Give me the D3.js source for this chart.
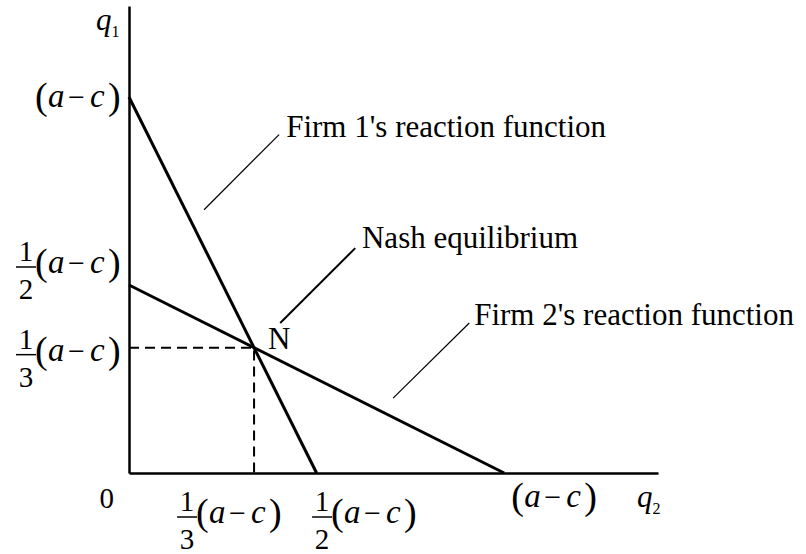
<!DOCTYPE html>
<html>
<head>
<meta charset="utf-8">
<script src="https://cdnjs.cloudflare.com/ajax/libs/d3/7.8.5/d3.min.js"></script>
<style>
  body { margin: 0; background: #fff; }
  text { font-family: "Liberation Serif", "Times New Roman", serif; fill: #000; }
</style>
</head>
<body>
<script>
// values are in units of (a - c)
var firm1Line = [{q2: 0, q1: 1}, {q2: 0.5, q1: 0}];
var firm2Line = [{q2: 0, q1: 0.5}, {q2: 1, q1: 0}];
var nash = {q2: 1 / 3, q1: 1 / 3};

var xTickValues = [1 / 3, 1 / 2, 1];
var xTickDenoms = [3, 2, null];
var yTickValues = [1, 1 / 2, 1 / 3];
var yTickDenoms = [null, 2, 3];

var annotations = [
  {text: "Firm 1's reaction function", from: [0.2, 0.70], to: [0.40, 0.90], at: [0.419, 0.894], w: 1.2},
  {text: "Nash equilibrium", from: [0.403, 0.399], to: [0.603, 0.598], at: [0.621, 0.598], w: 2},
  {text: "Firm 2's reaction function", from: [0.704, 0.199], to: [0.907, 0.399], at: [0.92, 0.394], w: 1.2}
];

var width = 806, height = 554;

var svg = d3.select("body").append("svg")
    .attr("width", width)
    .attr("height", height);

svg.append("rect").attr("width", width).attr("height", height).attr("fill", "#fff");

// axes reach past the (a-c) points
var xScale = d3.scaleLinear().domain([0, 1.41]).range([129, 658]);
var yScale = d3.scaleLinear().domain([0, 1.242]).range([473, 6]);

var xAxis = d3.axisBottom(xScale).tickValues([]).tickSizeOuter(0);
var yAxis = d3.axisLeft(yScale).tickValues([]).tickSizeOuter(0);

svg.append("g")
    .attr("transform", "translate(0," + yScale(0) + ")")
    .call(xAxis)
    .select(".domain").attr("stroke", "#000").attr("stroke-width", 2.5);

svg.append("g")
    .attr("transform", "translate(" + xScale(0) + ",0)")
    .call(yAxis)
    .select(".domain").attr("stroke", "#000").attr("stroke-width", 2.5);

var line = d3.line()
    .x(function(d) { return xScale(d.q2); })
    .y(function(d) { return yScale(d.q1); });

// dashed guides to the equilibrium
svg.append("path")
    .attr("d", line([{q2: 0, q1: nash.q1}, nash, {q2: nash.q2, q1: 0}]))
    .attr("fill", "none")
    .attr("stroke", "#000")
    .attr("stroke-width", 2)
    .attr("stroke-dasharray", "10,6");

[firm1Line, firm2Line].forEach(function(l) {
  svg.append("path")
      .attr("d", line(l))
      .attr("fill", "none")
      .attr("stroke", "#000")
      .attr("stroke-width", 3);
});

// (a - c) with optional 1/n in front; origin = left edge, baseline
function mathLabel(g, denom) {
  var x = 0;
  if (denom) {
    g.append("line").attr("x1", 0).attr("x2", 20).attr("y1", -6).attr("y2", -6)
        .attr("stroke", "#000").attr("stroke-width", 1.5);
    g.append("text").attr("x", 10).attr("y", -12).attr("text-anchor", "middle")
        .attr("font-size", 29).text("1");
    g.append("text").attr("x", 10).attr("y", 26).attr("text-anchor", "middle")
        .attr("font-size", 29).text(denom);
    x = 19;
  }
  g.append("text").attr("x", x).attr("y", 2).attr("font-size", 38).text("(");
  g.append("text").attr("x", x + 13).attr("y", 0).attr("font-size", 33)
      .attr("font-style", "italic").text("a");
  g.append("text").attr("x", x + 33).attr("y", 0).attr("font-size", 30).text("\u2212");
  g.append("text").attr("x", x + 55).attr("y", 0).attr("font-size", 33)
      .attr("font-style", "italic").text("c");
  g.append("text").attr("x", x + 73).attr("y", 2).attr("font-size", 38).text(")");
  return x + 87;
}

// y tick labels, right edge a bit left of the axis
var yNudge = [10, -12, 13];
yTickValues.forEach(function(v, i) {
  var g = svg.append("g");
  var w = mathLabel(g, yTickDenoms[i]);
  g.attr("transform", "translate(" + (xScale(0) - 7 - w) + "," + (yScale(v) + yNudge[i]) + ")");
});

// x tick labels
var xNudge = [[-77, 50], [-4.5, 50], [7, 34]];
xTickValues.forEach(function(v, i) {
  var g = svg.append("g");
  mathLabel(g, xTickDenoms[i]);
  g.attr("transform", "translate(" + (xScale(v) + xNudge[i][0]) + "," + (yScale(0) + xNudge[i][1]) + ")");
});

svg.append("text").attr("x", 114).attr("y", 508).attr("text-anchor", "end")
    .attr("font-size", 29).text("0");

// axis titles
var q1 = svg.append("text").attr("x", 96).attr("y", 30).attr("font-size", 31);
q1.append("tspan").attr("font-style", "italic").text("q");
q1.append("tspan").attr("font-size", 16).attr("dy", 7).text("1");

var q2 = svg.append("text").attr("x", 637).attr("y", 507).attr("font-size", 31);
q2.append("tspan").attr("font-style", "italic").text("q");
q2.append("tspan").attr("font-size", 16).attr("dy", 7).text("2");

// leaders and labels
annotations.forEach(function(a) {
  svg.append("line")
      .attr("x1", xScale(a.from[0])).attr("y1", yScale(a.from[1]))
      .attr("x2", xScale(a.to[0])).attr("y2", yScale(a.to[1]))
      .attr("stroke", "#000").attr("stroke-width", a.w);
  svg.append("text")
      .attr("x", xScale(a.at[0])).attr("y", yScale(a.at[1]))
      .attr("font-size", 31)
      .text(a.text);
});

svg.append("text")
    .attr("x", xScale(nash.q2) + 14).attr("y", yScale(nash.q1) + 1)
    .attr("font-size", 31)
    .text("N");
</script>
</body>
</html>
